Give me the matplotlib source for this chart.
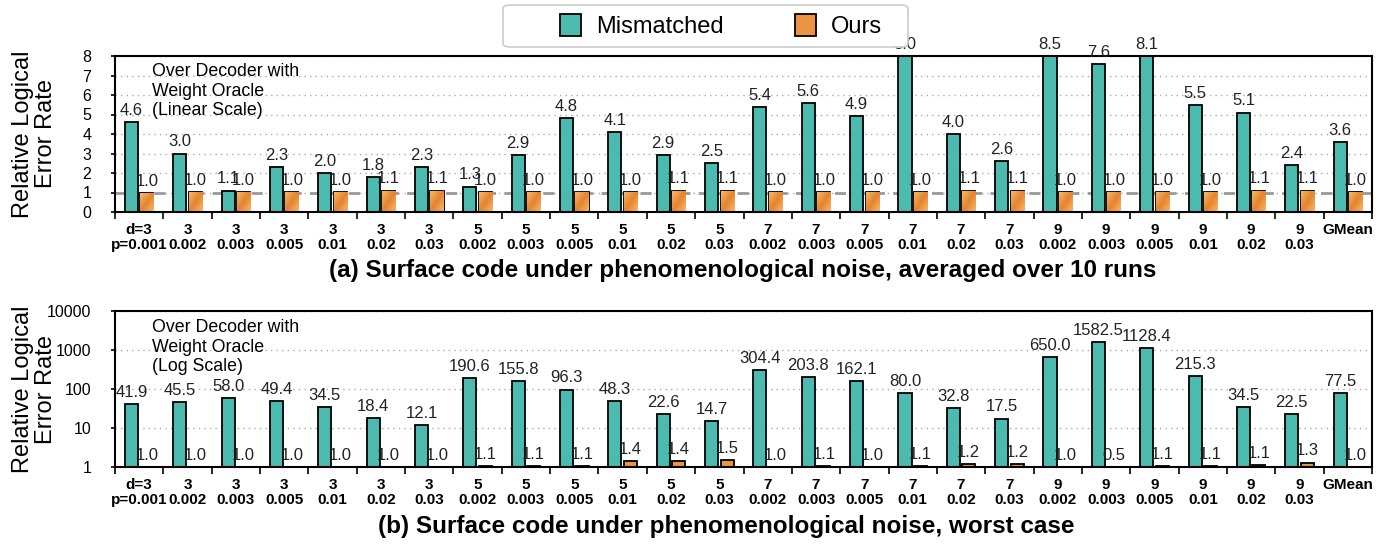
import numpy as np
import matplotlib
matplotlib.use("Agg")
import matplotlib.pyplot as plt
from matplotlib.colors import LinearSegmentedColormap
from matplotlib.patches import Patch, FancyBboxPatch

plt.rcParams['font.family'] = ['Liberation Sans', 'DejaVu Sans']

# ---- data ----
d_vals = [3] * 7 + [5] * 6 + [7] * 6 + [9] * 6
p_vals = ['0.001', '0.002', '0.003', '0.005', '0.01', '0.02', '0.03',
          '0.002', '0.003', '0.005', '0.01', '0.02', '0.03',
          '0.002', '0.003', '0.005', '0.01', '0.02', '0.03',
          '0.002', '0.003', '0.005', '0.01', '0.02', '0.03']

avg_mismatched = [4.6, 3.0, 1.1, 2.3, 2.0, 1.8, 2.3,
                  1.3, 2.9, 4.8, 4.1, 2.9, 2.5,
                  5.4, 5.6, 4.9, 8.0, 4.0, 2.6,
                  8.5, 7.6, 8.1, 5.5, 5.1, 2.4,
                  3.6]
avg_ours = [0.96, 1.03, 1.04, 1.04, 1.04, 1.1, 1.1,
            1.04, 1.04, 1.04, 1.04, 1.1, 1.1,
            1.04, 1.04, 1.04, 1.04, 1.1, 1.1,
            1.04, 1.04, 1.04, 1.04, 1.1, 1.1,
            1.04]

worst_mismatched = [41.9, 45.5, 58.0, 49.4, 34.5, 18.4, 12.1,
                    190.6, 155.8, 96.3, 48.3, 22.6, 14.7,
                    304.4, 203.8, 162.1, 80.0, 32.8, 17.5,
                    650.0, 1582.5, 1128.4, 215.3, 34.5, 22.5,
                    77.5]
worst_ours = [1.0, 1.0, 1.0, 1.0, 1.0, 1.0, 1.0,
              1.05, 1.05, 1.05, 1.4, 1.4, 1.5,
              1.0, 1.05, 1.0, 1.05, 1.2, 1.2,
              1.0, 0.5, 1.05, 1.05, 1.14, 1.3,
              1.0]

labels = ['d=3\np=0.001'] + ['%d\n%s' % (d, p) for d, p in zip(d_vals[1:], p_vals[1:])] + ['GMean']

TEAL = '#4cbaaf'
ORANGE = '#eb9443'
orange_cmap = LinearSegmentedColormap.from_list('og', ['#f7ba6e', '#e5842e', '#f7ba6e'])

W, H = 1390, 544
fig = plt.figure(figsize=(13.9, 5.44), dpi=100)
ax1 = fig.add_axes([115 / W, 1 - 212 / H, 1257 / W, 156 / H])
ax2 = fig.add_axes([115 / W, 1 - 467 / H, 1257 / W, 156 / H])

x = np.arange(len(labels))
w = 0.27
off = 0.16
grad = np.add.outer(np.linspace(0, 1, 30), np.linspace(0, 1, 30)) / 2


def setup(ax):
    ax.set_xlim(-0.5, len(labels) - 0.5)
    ax.set_xticks(x)
    ax.set_xticklabels(labels, fontsize=11, fontweight='bold', linespacing=1.05)
    ax.set_xticks(np.arange(len(labels) + 1) - 0.5, minor=True)
    ax.tick_params(axis='x', which='major', length=0, pad=8)
    ax.tick_params(axis='x', which='minor', length=5, width=1.2, direction='out')
    ax.tick_params(axis='y', length=3, width=1.2, labelsize=11.5, pad=14)
    for s in ax.spines.values():
        s.set_linewidth(1.5)
    ax.yaxis.grid(True, linestyle=(0, (1, 3)), color='#aaaaaa', linewidth=1)
    ax.set_axisbelow(True)
    ax.set_ylabel('Relative Logical\nError Rate', fontsize=17, linespacing=1.05)
    ax.yaxis.set_label_coords(-0.046, 0.5)


# ---- (a) linear ----
setup(ax1)
ax1.axhline(1, color='#999999', linestyle=(0, (4, 3)), linewidth=2, zorder=1)
b1 = ax1.bar(x - off, avg_mismatched, w, color=TEAL, edgecolor='black', linewidth=1.3, zorder=2)
b2 = ax1.bar(x + off, avg_ours, w, color=ORANGE, edgecolor='black', linewidth=1.3, zorder=2)
for bar in b2:
    bx, by = bar.get_x(), bar.get_y()
    im = ax1.imshow(grad, cmap=orange_cmap, extent=(bx, bx + bar.get_width(), by, by + bar.get_height()),
                    aspect='auto', zorder=2.1, origin='upper')
    im.set_clip_path(bar)
ax1.set_xlim(-0.5, len(labels) - 0.5)
ax1.set_ylim(0, 8)
ax1.set_yticks(range(9))
for xi, v in zip(x, avg_mismatched):
    ax1.annotate('%.1f' % v, (xi - off, min(v, 8)), xytext=(0, 3), textcoords='offset points',
                 ha='center', va='bottom', fontsize=12, color='#222222', annotation_clip=False)
for xi, v in zip(x, avg_ours):
    ax1.annotate('%.1f' % v, (xi + off, v), xytext=(0, 3), textcoords='offset points',
                 ha='center', va='bottom', fontsize=12, color='#222222')
ax1.text(152 / W, 1 - 63 / H, 'Over Decoder with\nWeight Oracle\n(Linear Scale)',
         transform=fig.transFigure, fontsize=12.8, va='top', ha='left', linespacing=1.2)

# ---- (b) log ----
setup(ax2)
ax2.set_yscale('log')
ax2.set_ylim(1, 10000)
ax2.set_yticks([1, 10, 100, 1000, 10000])
ax2.set_yticklabels(['1', '10', '100', '1000', '10000'])
ax2.yaxis.set_minor_locator(matplotlib.ticker.NullLocator())
ax2.bar(x - off, worst_mismatched, w, color=TEAL, edgecolor='black', linewidth=1.3, zorder=2)
ax2.bar(x + off, worst_ours, w, color=ORANGE, edgecolor='black', linewidth=1.3, zorder=2)
for xi, v in zip(x, worst_mismatched):
    ax2.annotate('%.1f' % v, (xi - off, v), xytext=(0, 3), textcoords='offset points',
                 ha='center', va='bottom', fontsize=12, color='#222222')
for xi, v in zip(x, worst_ours):
    ax2.annotate('%.1f' % v, (xi + off, max(v, 1)), xytext=(0, 3), textcoords='offset points',
                 ha='center', va='bottom', fontsize=12, color='#222222')
ax2.text(152 / W, 1 - 319 / H, 'Over Decoder with\nWeight Oracle\n(Log Scale)',
         transform=fig.transFigure, fontsize=12.8, va='top', ha='left', linespacing=1.2)

# ---- captions ----
fig.text(743 / W, 1 - 270 / H, '(a) Surface code under phenomenological noise, averaged over 10 runs',
         ha='center', va='center', fontsize=17.5, fontweight='bold')
fig.text(726 / W, 1 - 526 / H, '(b) Surface code under phenomenological noise, worst case',
         ha='center', va='center', fontsize=17.5, fontweight='bold')

# ---- legend ----
box = FancyBboxPatch((503 / W, 1 - 47 / H), 405 / W, 42 / H, transform=fig.transFigure,
                     boxstyle='round,pad=0,rounding_size=0.006', facecolor='white',
                     edgecolor='#cccccc', linewidth=1.2, zorder=9)
fig.add_artist(box)
handles = [Patch(facecolor=TEAL, edgecolor='black', linewidth=1.3, label='Mismatched'),
           Patch(facecolor=ORANGE, edgecolor='black', linewidth=1.3, label='Ours')]
leg = fig.legend(handles=handles, loc='center left', bbox_to_anchor=(555 / W, 1 - 26 / H),
                 ncol=2, fontsize=17, handlelength=0.9, handleheight=1.05, handletextpad=0.65,
                 columnspacing=3.0, borderpad=0.2, frameon=False, borderaxespad=0)
leg.set_zorder(10)

fig.savefig('out.png', dpi=100)
